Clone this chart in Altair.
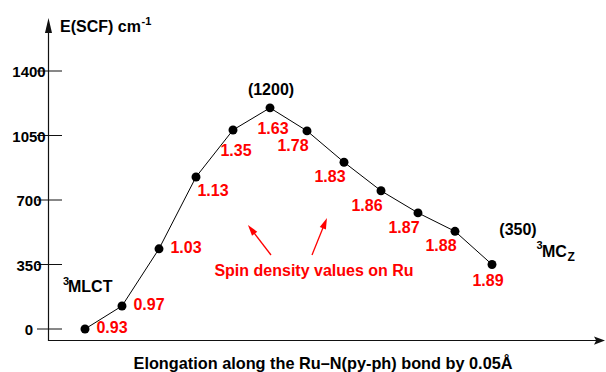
import altair as alt
import pandas as pd

# Energy profile along the Ru–N(py-ph) elongation coordinate
steps = list(range(12))
energies = [0, 125, 435, 825, 1080, 1200, 1075, 905, 750, 630, 530, 350]
spin = [0.93, 0.97, 1.03, 1.13, 1.35, 1.63, 1.78, 1.83, 1.86, 1.87, 1.88, 1.89]
y_ticks = [0, 350, 700, 1050, 1400]

FONT = "Liberation Sans"
RED = "#ff0000"
INK = "#111111"

df = pd.DataFrame({"step": steps, "energy": energies, "spin": spin})
df["note"] = ["(%d)" % e for e in energies]
ticks_df = pd.DataFrame({"tick": y_ticks})
one = pd.DataFrame({"k": [0]})

xs = alt.Scale(domain=[0, 11], range=[85, 492], nice=False, zero=False)
ys = alt.Scale(domain=[0, 1400], range=[329, 71], nice=False, zero=False)
X = alt.X("step:Q", scale=xs, axis=None)
Y = alt.Y("energy:Q", scale=ys, axis=None)

base = alt.Chart(df)

line = base.mark_line(color="black", strokeWidth=1).encode(x=X, y=Y)
dots = base.mark_circle(color="black", size=80, opacity=1).encode(x=X, y=Y)


def spin_labels(cond, dx, dy):
    return base.transform_filter(cond).mark_text(
        font=FONT, fontSize=16, fontWeight="bold", color=RED,
        align="center", baseline="middle", dx=dx, dy=dy,
    ).encode(x=X, y=Y, text=alt.Text("spin:Q", format=".2f"))


spin_layers = [
    spin_labels(alt.datum.step <= 2, 27, -1),
    spin_labels(alt.datum.step == 3, 17, 14),
    spin_labels((alt.datum.step >= 4) & (alt.datum.step <= 5), 3, 21),
    spin_labels((alt.datum.step >= 6) & (alt.datum.step <= 10), -14, 15),
    spin_labels(alt.datum.step == 11, -4, 16),
]


def energy_note(step, dx, dy):
    return base.transform_filter(alt.datum.step == step).mark_text(
        font=FONT, fontSize=16, fontWeight="bold", color="black",
        align="center", baseline="middle", dx=dx, dy=dy,
    ).encode(x=X, y=Y, text="note:N")


notes = [energy_note(5, 1, -18), energy_note(11, 26, -35)]

# Axes drawn as plain rules with arrowheads
yaxis = alt.Chart(one).mark_rule(color=INK, strokeWidth=1.2).encode(
    x=alt.value(48.5), y=alt.value(341), y2=alt.value(30))
xaxis = alt.Chart(one).mark_rule(color=INK, strokeWidth=1.2).encode(
    x=alt.value(48), x2=alt.value(598), y=alt.value(340.5))
yarrow = alt.Chart(one).mark_point(
    shape="M0,-1L0.47,1L-0.47,1Z", filled=True, size=225, color=INK, opacity=1
).encode(x=alt.value(48.5), y=alt.value(25.5))
xarrow = alt.Chart(one).mark_point(
    shape="M1,0L-1,0.75L-0.6,0L-1,-0.75Z", filled=True, size=121, color=INK, opacity=1
).encode(x=alt.value(599.5), y=alt.value(340.5))

tick_marks = alt.Chart(ticks_df).mark_rule(color=INK, strokeWidth=1).encode(
    y=alt.Y("tick:Q", scale=ys, axis=None), x=alt.value(37), x2=alt.value(62))
tick_labels = alt.Chart(ticks_df).mark_text(
    font=FONT, fontSize=15, fontWeight="bold", color="black",
    align="center", baseline="middle", dy=1,
).encode(y=alt.Y("tick:Q", scale=ys, axis=None), x=alt.value(29),
         text=alt.Text("tick:Q", format="d"))


def label(text, x, y, size=16, color="black", align="left"):
    return alt.Chart(one).mark_text(
        text=text, font=FONT, fontSize=size, fontWeight="bold", color=color,
        align=align, baseline="alphabetic",
    ).encode(x=alt.value(x), y=alt.value(y))


texts = [
    label("E(SCF) cm", 60, 32),
    label("-1", 141.5, 25, size=11),
    label("Elongation along the Ru\u2013N(py-ph) bond by 0.05\u00c5", 323, 369, size=16.3, align="center"),
    label("3", 63, 285, size=11),
    label("MLCT", 68, 292),
    label("3", 536.5, 249, size=11),
    label("MC", 542, 257),
    label("Z", 567.5, 261, size=12),
    label("Spin density values on Ru", 314, 276, color=RED, align="center"),
]

# Red pointer arrows for the spin-density caption
shaft1 = alt.Chart(one).mark_rule(color=RED, strokeWidth=1.3).encode(
    x=alt.value(271), y=alt.value(255), x2=alt.value(251.3), y2=alt.value(229.4))
head1 = alt.Chart(one).mark_point(
    shape="M0,-1L0.6,1L-0.6,1Z", filled=True, size=121, color=RED, opacity=1, angle=322.5
).encode(x=alt.value(251.3), y=alt.value(229.4))
shaft2 = alt.Chart(one).mark_rule(color=RED, strokeWidth=1.3).encode(
    x=alt.value(312), y=alt.value(255), x2=alt.value(324.9), y2=alt.value(223.1))
head2 = alt.Chart(one).mark_point(
    shape="M0,-1L0.6,1L-0.6,1Z", filled=True, size=121, color=RED, opacity=1, angle=22
).encode(x=alt.value(324.9), y=alt.value(223.1))

chart = alt.layer(
    yaxis, xaxis, yarrow, xarrow, tick_marks, tick_labels,
    line, dots, *spin_layers, *notes, *texts,
    shaft1, head1, shaft2, head2,
).properties(
    width=606, height=372, padding=0,
    autosize=alt.AutoSizeParams(type="none"),
    background="white",
).configure_view(strokeWidth=0)

chart.save("out.html", embed_options={"renderer": "svg", "actions": False})
